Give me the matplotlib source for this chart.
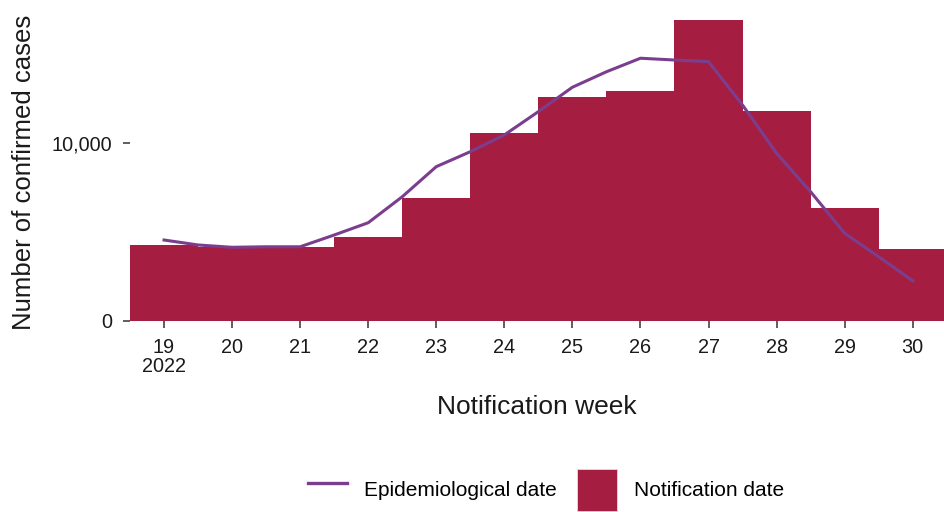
import matplotlib
matplotlib.use("Agg")
import matplotlib.pyplot as plt
from matplotlib.patches import Patch
from matplotlib.lines import Line2D
from matplotlib.ticker import FuncFormatter

plt.rcParams['font.family'] = ['Liberation Sans', 'DejaVu Sans']

# Notification-date weekly counts (bars)
weeks = [19, 20, 21, 22, 23, 24, 25, 26, 27, 28, 29, 30]
notif_cases = [4250, 4150, 4150, 4740, 6890, 10540, 12570, 12940, 16910, 11800, 6330, 4060]

# Epidemiological-date curve (read at whole and half weeks)
epi_x = [19, 19.5, 20, 20.5, 21, 21.5, 22, 22.5, 23, 23.5, 24, 24.5, 25, 25.5,
         26, 26.5, 27, 27.5, 28, 28.5, 29, 29.5, 30]
epi_cases = [4550, 4270, 4140, 4170, 4170, 4830, 5520, 6980, 8670, 9510, 10450, 11760,
             13130, 14000, 14760, 14660, 14570, 12130, 9420, 7260, 4930, 3610, 2260]

tick_labels = ["19\n2022", "20", "21", "22", "23", "24", "25", "26", "27", "28", "29", "30"]

bar_color = "#A51E42"
line_color = "#7B3E8E"

fig = plt.figure(figsize=(9.44, 5.12), dpi=100)
ax = fig.add_axes([130/944, (512-321)/512, (944-130)/944, (321-5)/512])

ax.bar(weeks, notif_cases, width=1.0, color=bar_color, edgecolor='none', linewidth=0,
       antialiased=False)
ax.plot(epi_x, epi_cases, color=line_color, linewidth=2.2, solid_joinstyle='round')

ax.set_xlim(18.5, 30.46)
ax.set_ylim(0, 17750)
ax.set_xticks(weeks)
ax.set_xticklabels(tick_labels, linespacing=1.0)
ax.set_yticks([0, 10000])
ax.yaxis.set_major_formatter(FuncFormatter(lambda v, p: f"{int(v):,}"))
for s in ax.spines.values():
    s.set_visible(False)
ax.tick_params(axis='both', colors='#333333', labelcolor='#1a1a1a', labelsize=14.3,
               length=5, width=1.1)
ax.tick_params(axis='x', pad=7)
ax.tick_params(axis='y', pad=8)

ax.set_xlabel("Notification week", fontsize=19, color='#1a1a1a', labelpad=14)
ax.set_ylabel("Number of confirmed cases", fontsize=18.5, color='#1a1a1a')
ax.yaxis.set_label_coords(-(130 - 36) / 814, (321 - 172) / 316)

handles = [Line2D([0], [0], color=line_color, linewidth=2.4),
           Patch(facecolor=bar_color, edgecolor='#dddddd', linewidth=0.6)]
fig.legend(handles, ["Epidemiological date", "Notification date"], loc='center',
           bbox_to_anchor=(0.578, (512 - 490) / 512), ncol=2, frameon=False, fontsize=15,
           handlelength=1.9, handleheight=2.7, handletextpad=0.8, columnspacing=1.0)

fig.savefig("out.png", dpi=100, facecolor='white')
